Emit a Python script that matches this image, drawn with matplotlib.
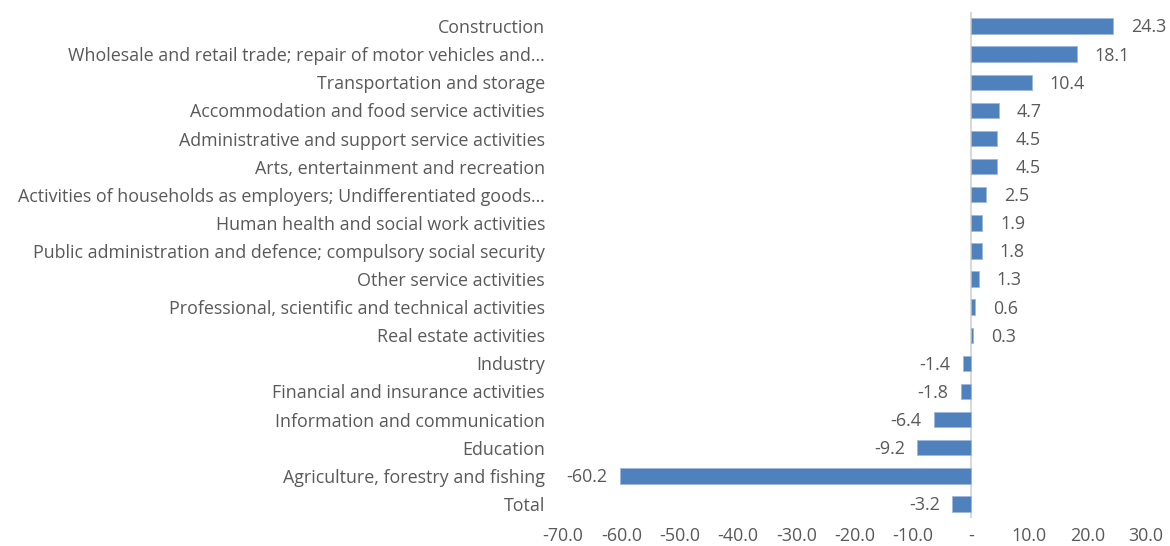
import matplotlib.pyplot as plt
from matplotlib.ticker import FixedLocator, FuncFormatter

categories = [
    "Construction",
    "Wholesale and retail trade; repair of motor vehicles and…",
    "Transportation and storage",
    "Accommodation and food service activities",
    "Administrative and support service activities",
    "Arts, entertainment and recreation",
    "Activities of households as employers; Undifferentiated goods…",
    "Human health and social work activities",
    "Public administration and defence; compulsory social security",
    "Other service activities",
    "Professional, scientific and technical activities",
    "Real estate activities",
    "Industry",
    "Financial and insurance activities",
    "Information and communication",
    "Education",
    "Agriculture, forestry and fishing",
    "Total",
]
values = [24.3, 18.1, 10.4, 4.7, 4.5, 4.5, 2.5, 1.9, 1.8, 1.3, 0.6, 0.3,
          -1.4, -1.8, -6.4, -9.2, -60.2, -3.2]
x_ticks = [-70, -60, -50, -40, -30, -20, -10, 0, 10, 20, 30]

plt.rcParams['font.family'] = ['Open Sans', 'DejaVu Sans']
text_color = '#595959'
bar_color = '#4F81BD'
fs = 12.9

fig = plt.figure(figsize=(11.7, 5.46), dpi=100)
ax = fig.add_axes([563/1170, 1-518/546, (1146-563)/1170, (518-12)/546])

n = len(categories)
ypos = list(range(n))
ax.barh(ypos, values, height=0.55, color=bar_color, edgecolor='#9DB9DD', linewidth=0.6, zorder=2)
ax.set_ylim(n - 0.5, -0.5)
ax.set_xlim(-70, 30)
ax.axvline(0, color='#D9D9D9', linewidth=1.5, zorder=1)

ax.set_yticks(ypos)
ax.set_yticklabels(categories)
ax.xaxis.set_major_locator(FixedLocator(x_ticks))
ax.xaxis.set_major_formatter(FuncFormatter(lambda v, p: '-' if v == 0 else f'{v:.1f}'))
ax.tick_params(axis='y', length=0, pad=13, labelsize=fs, labelcolor=text_color)
ax.tick_params(axis='x', length=0, pad=6.5, labelsize=fs, labelcolor=text_color)
for s in ax.spines.values():
    s.set_visible(False)

for y, v in zip(ypos, values):
    if v >= 0:
        ax.annotate(f'{v:.1f}', (v, y), xytext=(13, -1), textcoords='offset points',
                    ha='left', va='center', fontsize=fs, color=text_color)
    else:
        ax.annotate(f'{v:.1f}', (v, y), xytext=(-9, -1), textcoords='offset points',
                    ha='right', va='center', fontsize=fs, color=text_color)

fig.savefig('out.png', dpi=100)
